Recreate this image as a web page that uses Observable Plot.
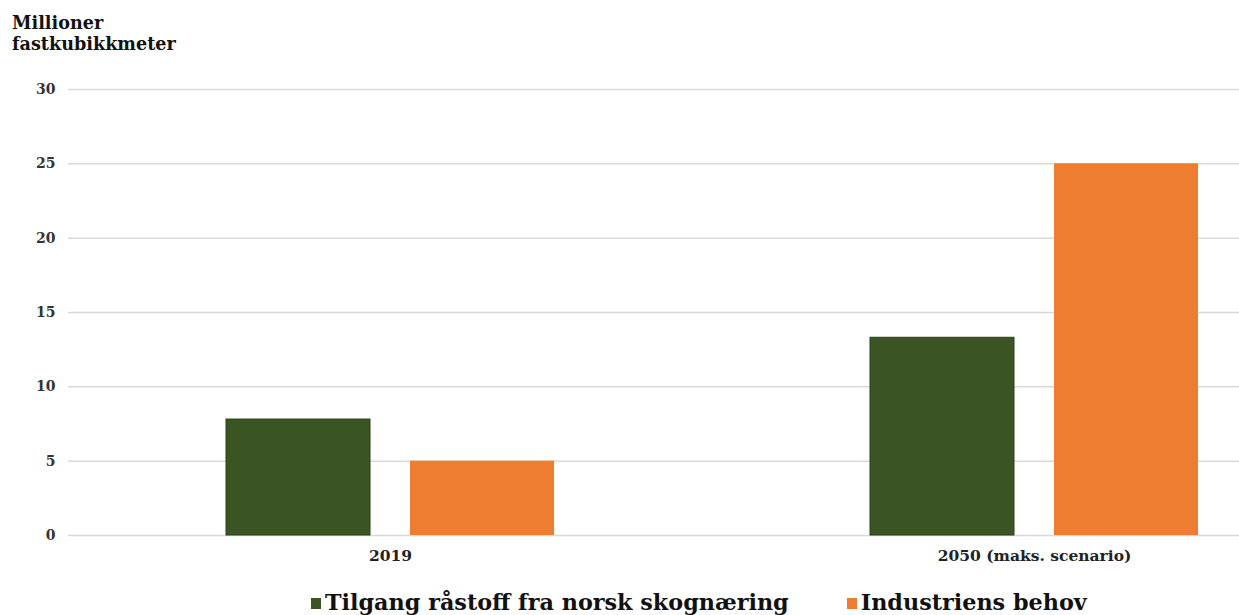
<!DOCTYPE html>
<html>
<head>
<meta charset="utf-8">
<script src="https://cdn.jsdelivr.net/npm/d3@7"></script>
<script src="https://cdn.jsdelivr.net/npm/@observablehq/plot@0.6"></script>
<style>
  html, body { margin: 0; padding: 0; background: #fff; overflow: hidden; }
  body { width: 1239px; height: 615px; position: relative; font-family: "DejaVu Serif", serif; font-weight: bold; }
  #title { position: absolute; left: 12px; top: 12px; font-size: 17.6px; line-height: 21px; color: #111; }
  #chart { position: absolute; left: 0; top: 60px; }
  #legend { position: absolute; left: 311px; top: 589px; font-size: 22.3px; line-height: 26px; color: #111; white-space: nowrap; }
  #legend .item { display: inline-block; margin-right: 58px; }
  #legend .sw { display: inline-block; width: 10px; height: 11px; margin-right: 4px; vertical-align: baseline; position: relative; top: -1px; }
</style>
</head>
<body>
<div id="title">Millioner<br>fastkubikkmeter</div>
<div id="chart"></div>
<div id="legend"></div>
<script>
// Wood supply vs. industry demand, million solid cubic metres
const groups = ["2019", "2050 (maks. scenario)"];
const seriesNames = ["Tilgang råstoff fra norsk skognæring", "Industriens behov"];
const supply = [7.8, 13.3];
const demand = [5.0, 25.0];
const yTicks = [0, 5, 10, 15, 20, 25, 30];
const colors = ["#3a5424", "#ed7d31"];

const rows = groups.flatMap((g, i) => [
  {group: g, series: seriesNames[0], value: supply[i]},
  {group: g, series: seriesNames[1], value: demand[i]}
]);

const chart = Plot.plot({
  width: 1239,
  height: 520,
  marginLeft: 67,
  marginRight: 0,
  marginTop: 29,
  marginBottom: 45,
  style: {fontFamily: "DejaVu Serif", fontWeight: "bold", overflow: "hidden", background: "white"},
  fx: {domain: groups, range: [67, 1356], padding: 0, label: null},
  x: {domain: seriesNames, paddingInner: 0.2162, paddingOuter: 0.85, axis: null},
  y: {domain: [0, 30], axis: null},
  color: {domain: seriesNames, range: colors},
  marks: [
    Plot.gridY(yTicks, {stroke: "#d9d9d9", strokeOpacity: 1, strokeWidth: 1.5}),
    Plot.axisY(yTicks, {tickSize: 0, tickPadding: 13, fontSize: 14, fill: "#333", label: null}),
    Plot.axisFx({anchor: "bottom", tickSize: 0, tickPadding: 14, fontSize: 15.5, fill: "#222", label: null}),
    Plot.barY(rows.filter(d => d.series === seriesNames[0]),
      {fx: "group", x: "series", y: "value", fill: "series", stroke: "#2c4019", strokeWidth: 1}),
    Plot.barY(rows.filter(d => d.series === seriesNames[1]),
      {fx: "group", x: "series", y: "value", fill: "series"})
  ]
});
document.getElementById("chart").appendChild(chart);

// Legend below the chart
const legend = document.getElementById("legend");
seriesNames.forEach((name, i) => {
  const item = document.createElement("span");
  item.className = "item";
  const sw = document.createElement("span");
  sw.className = "sw";
  sw.style.background = colors[i];
  item.appendChild(sw);
  item.appendChild(document.createTextNode(name));
  legend.appendChild(item);
});
</script>
</body>
</html>
